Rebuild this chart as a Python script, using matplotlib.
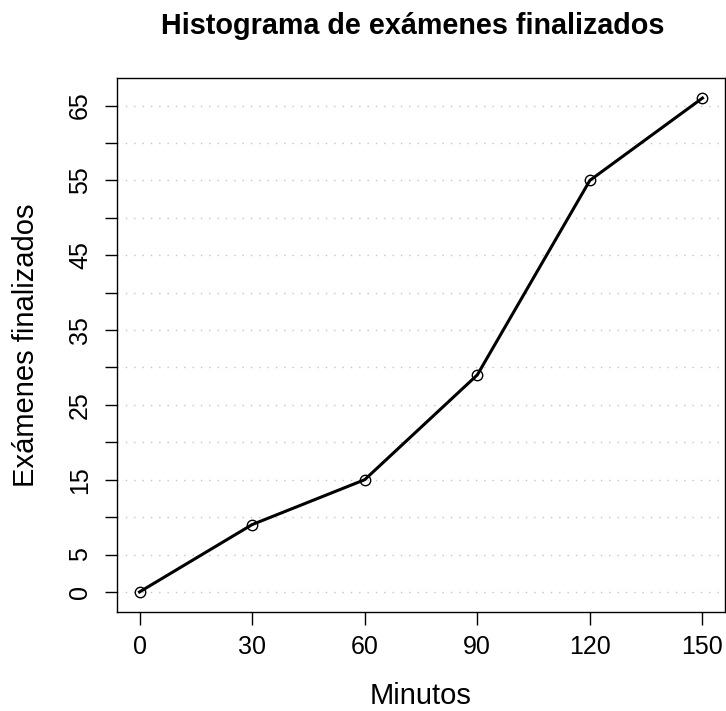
import matplotlib
matplotlib.use("Agg")
import matplotlib.pyplot as plt

plt.rcParams['font.family'] = ['Liberation Sans', 'DejaVu Sans']

minutos = [0, 30, 60, 90, 120, 150]
examenes = [0, 9, 15, 29, 55, 66]
x_ticks = [0, 30, 60, 90, 120, 150]
y_ticks = list(range(0, 70, 5))
y_labels = ['0', '5', '', '15', '', '25', '', '35', '', '45', '', '55', '', '65']

fig = plt.figure(figsize=(7.26, 7.11), dpi=100)
ax = fig.add_axes([117/726, 99.3/711, 608/726, 533.4/711])

for y in y_ticks:
    ax.axhline(y, color='#c4c4c4', lw=1.0, ls=(0, (1, 5)), zorder=0)

ax.plot(minutos, examenes, color='black', lw=2.2, marker='o', ms=7.5,
        mfc='none', mec='black', mew=1.0, zorder=3)

ax.set_xlim(-6, 156)
ax.set_ylim(-2.64, 68.64)
ax.set_xticks(x_ticks)
ax.set_xticklabels([str(v) for v in x_ticks])
ax.set_yticks(y_ticks)
ax.set_yticklabels(y_labels, rotation=90, va='center')

ax.tick_params(axis='both', length=9, width=1.0, labelsize=18, pad=8)
ax.tick_params(axis='y', pad=9)
for s in ax.spines.values():
    s.set_linewidth(1.0)

fig.text(421/726, 1 - 704/711, 'Minutos', ha='center', va='baseline', fontsize=21)
fig.text(40/726, 1 - 345.5/711, 'Exámenes finalizados', ha='right', va='center',
         rotation=90, fontsize=21)
fig.text(413/726, 1 - 34/711, 'Histograma de exámenes finalizados',
         ha='center', va='baseline', fontsize=20.7, fontweight='bold')

fig.savefig('out.png', dpi=100)
